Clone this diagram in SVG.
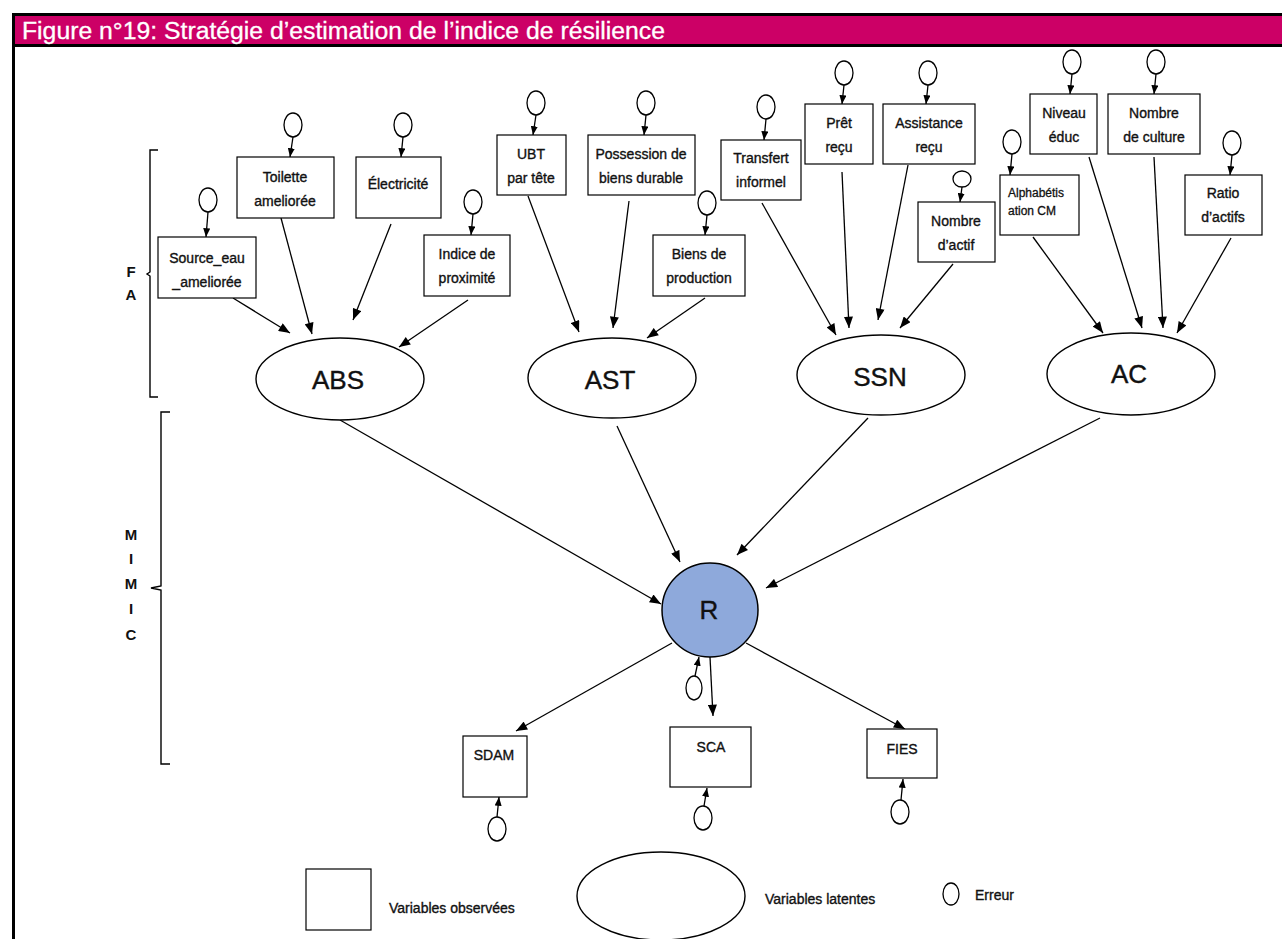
<svg xmlns="http://www.w3.org/2000/svg" width="1282" height="939" viewBox="0 0 1282 939">
<style>
.box{fill:#fff;stroke:#000;stroke-width:1.2}
.err{fill:#fff;stroke:#000;stroke-width:1.3}
.lat{fill:#fff;stroke:#000;stroke-width:1.4}
.t{font-family:"Liberation Sans",Arial,sans-serif;font-size:14px;fill:#111;stroke:#111;stroke-width:0.35;text-anchor:middle}
.ts{font-family:"Liberation Sans",Arial,sans-serif;font-size:12px;fill:#111;stroke:#111;stroke-width:0.3}
.tl{font-family:"Liberation Sans",Arial,sans-serif;font-size:26px;fill:#111;stroke:#111;stroke-width:0.4;text-anchor:middle}
.side{font-family:"Liberation Sans",Arial,sans-serif;font-size:15px;fill:#111;text-anchor:middle;font-weight:bold}
.leg{font-family:"Liberation Sans",Arial,sans-serif;font-size:14px;fill:#111;stroke:#111;stroke-width:0.35}
.c{stroke:#000;stroke-width:1.3;fill:none}
.ce{stroke:#000;stroke-width:1.3;fill:none}
.br{stroke:#000;stroke-width:1.4;fill:none}
</style>
<defs>
<marker id="ah" viewBox="0 0 10 8" refX="10" refY="4" markerWidth="12" markerHeight="9" orient="auto" markerUnits="userSpaceOnUse"><path d="M0,0 L10,4 L0,8 z" fill="#000"/></marker>
<marker id="as" viewBox="0 0 10 8" refX="10" refY="4" markerWidth="9" markerHeight="7" orient="auto" markerUnits="userSpaceOnUse"><path d="M0,0 L10,4 L0,8 z" fill="#000"/></marker>
</defs>
<rect width="1282" height="939" fill="#fff"/>
<g id="header">
<rect x="13" y="15" width="1269" height="30" fill="#CC0066"/>
<line x1="12" y1="14.5" x2="1282" y2="14.5" stroke="#000" stroke-width="3"/>
<line x1="12" y1="45.5" x2="1282" y2="45.5" stroke="#000" stroke-width="3"/>
<line x1="13.5" y1="14" x2="13.5" y2="939" stroke="#000" stroke-width="3"/>
<text x="22" y="39" font-family="'Liberation Sans',Arial,sans-serif" font-size="23" fill="#fff" stroke="#fff" stroke-width="0.3" textLength="643" lengthAdjust="spacingAndGlyphs">Figure n°19: Stratégie d’estimation de l’indice de résilience</text>
</g>
<g id="brackets">
<path class="br" d="M158,150 L150,150 L150,272 L147,274 L150,276 L150,397 L158,397"/>
<text class="side" x="131" y="277">F</text>
<text class="side" x="131" y="300">A</text>
<path class="br" d="M170,412 L161,412 L161,586 L151,588 L161,590 L161,764 L170,764"/>
<text class="side" x="131" y="540">M</text>
<text class="side" x="131" y="564">I</text>
<text class="side" x="131" y="589">M</text>
<text class="side" x="131" y="614">I</text>
<text class="side" x="131" y="640">C</text>
</g>
<g id="connectors">
<line class="c" x1="233" y1="298" x2="290" y2="333" marker-end="url(#ah)"/>
<line class="c" x1="281" y1="218" x2="312" y2="334" marker-end="url(#ah)"/>
<line class="c" x1="391" y1="224" x2="353" y2="320" marker-end="url(#ah)"/>
<line class="c" x1="468" y1="300" x2="399" y2="347" marker-end="url(#ah)"/>
<line class="c" x1="528" y1="196" x2="579" y2="332" marker-end="url(#ah)"/>
<line class="c" x1="629" y1="201" x2="613" y2="328" marker-end="url(#ah)"/>
<line class="c" x1="705" y1="298" x2="647" y2="338" marker-end="url(#ah)"/>
<line class="c" x1="762" y1="203" x2="836" y2="335" marker-end="url(#ah)"/>
<line class="c" x1="842" y1="172" x2="849" y2="328" marker-end="url(#ah)"/>
<line class="c" x1="908" y1="165" x2="878" y2="320" marker-end="url(#ah)"/>
<line class="c" x1="953" y1="264" x2="900" y2="328" marker-end="url(#ah)"/>
<line class="c" x1="1033" y1="237" x2="1103" y2="333" marker-end="url(#ah)"/>
<line class="c" x1="1089" y1="157" x2="1142" y2="328" marker-end="url(#ah)"/>
<line class="c" x1="1154" y1="157" x2="1163" y2="328" marker-end="url(#ah)"/>
<line class="c" x1="1231" y1="238" x2="1177" y2="333" marker-end="url(#ah)"/>
<line class="c" x1="340" y1="420" x2="661" y2="604" marker-end="url(#ah)"/>
<line class="c" x1="617" y1="426" x2="680" y2="562" marker-end="url(#ah)"/>
<line class="c" x1="868" y1="418" x2="737" y2="555" marker-end="url(#ah)"/>
<line class="c" x1="1100" y1="418" x2="766" y2="588" marker-end="url(#ah)"/>
<line class="c" x1="672" y1="643" x2="516" y2="731" marker-end="url(#ah)"/>
<line class="c" x1="710" y1="657" x2="713" y2="716" marker-end="url(#ah)"/>
<line class="c" x1="746" y1="643" x2="905" y2="729" marker-end="url(#ah)"/>
<line class="ce" x1="208" y1="212" x2="206" y2="237" marker-end="url(#as)"/>
<line class="ce" x1="293" y1="137" x2="290" y2="157" marker-end="url(#as)"/>
<line class="ce" x1="403" y1="137" x2="401" y2="157" marker-end="url(#as)"/>
<line class="ce" x1="473" y1="214" x2="471" y2="235" marker-end="url(#as)"/>
<line class="ce" x1="536" y1="115" x2="533" y2="135" marker-end="url(#as)"/>
<line class="ce" x1="646" y1="115" x2="644" y2="135" marker-end="url(#as)"/>
<line class="ce" x1="707" y1="215" x2="705" y2="235" marker-end="url(#as)"/>
<line class="ce" x1="766" y1="119" x2="764" y2="140" marker-end="url(#as)"/>
<line class="ce" x1="844" y1="85" x2="842" y2="104" marker-end="url(#as)"/>
<line class="ce" x1="928" y1="85" x2="926" y2="104" marker-end="url(#as)"/>
<line class="ce" x1="962" y1="187" x2="960" y2="202" marker-end="url(#as)"/>
<line class="ce" x1="1012" y1="154" x2="1010" y2="175" marker-end="url(#as)"/>
<line class="ce" x1="1072" y1="74" x2="1070" y2="94" marker-end="url(#as)"/>
<line class="ce" x1="1156" y1="74" x2="1154" y2="94" marker-end="url(#as)"/>
<line class="ce" x1="1232" y1="155" x2="1230" y2="175" marker-end="url(#as)"/>
<line class="ce" x1="695" y1="676" x2="699" y2="657" marker-end="url(#as)"/>
<line class="ce" x1="497" y1="817" x2="499" y2="797" marker-end="url(#as)"/>
<line class="ce" x1="704" y1="806" x2="707" y2="788" marker-end="url(#as)"/>
<line class="ce" x1="901" y1="800" x2="903" y2="779" marker-end="url(#as)"/>
</g>
<g id="source_eau"><ellipse class="err" cx="208" cy="200" rx="9" ry="12"/><rect class="box" x="158" y="237" width="98" height="61"/><text class="t" x="207" y="263">Source_eau</text><text class="t" x="207" y="287">_ameliorée</text></g>
<g id="toilette"><ellipse class="err" cx="293" cy="125" rx="9" ry="12"/><rect class="box" x="237" y="157" width="97" height="61"/><text class="t" x="285" y="182">Toilette</text><text class="t" x="285" y="206">ameliorée</text></g>
<g id="electricite"><ellipse class="err" cx="403" cy="125" rx="9" ry="12"/><rect class="box" x="356" y="157" width="85" height="61"/><text class="t" x="398" y="189">Électricité</text></g>
<g id="indice"><ellipse class="err" cx="473" cy="202" rx="9" ry="12"/><rect class="box" x="424" y="235" width="86" height="61"/><text class="t" x="467" y="259">Indice de</text><text class="t" x="467" y="283">proximité</text></g>
<g id="ubt"><ellipse class="err" cx="536" cy="103" rx="9" ry="12"/><rect class="box" x="497" y="135" width="69" height="60"/><text class="t" x="531" y="159">UBT</text><text class="t" x="531" y="183">par tête</text></g>
<g id="possession"><ellipse class="err" cx="646" cy="103" rx="9" ry="12"/><rect class="box" x="588" y="135" width="107" height="60"/><text class="t" x="641" y="159">Possession de</text><text class="t" x="641" y="183">biens durable</text></g>
<g id="biens_prod"><ellipse class="err" cx="707" cy="203" rx="9" ry="12"/><rect class="box" x="653" y="235" width="92" height="61"/><text class="t" x="699" y="259">Biens de</text><text class="t" x="699" y="283">production</text></g>
<g id="transfert"><ellipse class="err" cx="766" cy="107" rx="9" ry="12"/><rect class="box" x="721" y="140" width="80" height="60"/><text class="t" x="761" y="163">Transfert</text><text class="t" x="761" y="187">informel</text></g>
<g id="pret"><ellipse class="err" cx="844" cy="73" rx="9" ry="12"/><rect class="box" x="805" y="104" width="68" height="60"/><text class="t" x="839" y="128">Prêt</text><text class="t" x="839" y="152">reçu</text></g>
<g id="assistance"><ellipse class="err" cx="928" cy="73" rx="9" ry="12"/><rect class="box" x="883" y="104" width="92" height="60"/><text class="t" x="929" y="128">Assistance</text><text class="t" x="929" y="152">reçu</text></g>
<g id="nombre_actif"><ellipse class="err" cx="962" cy="179" rx="9" ry="8"/><rect class="box" x="918" y="202" width="77" height="60"/><text class="t" x="956" y="226">Nombre</text><text class="t" x="956" y="250">d’actif</text></g>
<g id="alphabetisation"><ellipse class="err" cx="1012" cy="142" rx="9" ry="12"/><rect class="box" x="1000" y="175" width="79" height="60"/><text class="ts" x="1008" y="197">Alphabétis</text><text class="ts" x="1008" y="215">ation CM</text></g>
<g id="niveau_educ"><ellipse class="err" cx="1072" cy="62" rx="9" ry="12"/><rect class="box" x="1030" y="94" width="67" height="60"/><text class="t" x="1064" y="118">Niveau</text><text class="t" x="1064" y="142">éduc</text></g>
<g id="nombre_culture"><ellipse class="err" cx="1156" cy="62" rx="9" ry="12"/><rect class="box" x="1108" y="94" width="92" height="60"/><text class="t" x="1154" y="118">Nombre</text><text class="t" x="1154" y="142">de culture</text></g>
<g id="ratio_actifs"><ellipse class="err" cx="1232" cy="143" rx="9" ry="12"/><rect class="box" x="1185" y="175" width="77" height="60"/><text class="t" x="1223" y="198">Ratio</text><text class="t" x="1223" y="222">d’actifs</text></g>
<g id="ABS"><ellipse class="lat" cx="340" cy="379" rx="84" ry="41"/><text class="tl" x="338" y="389">ABS</text></g>
<g id="AST"><ellipse class="lat" cx="612" cy="378" rx="84" ry="40"/><text class="tl" x="610" y="389">AST</text></g>
<g id="SSN"><ellipse class="lat" cx="881" cy="375" rx="84" ry="40"/><text class="tl" x="880" y="386">SSN</text></g>
<g id="AC"><ellipse class="lat" cx="1131" cy="374" rx="84" ry="41"/><text class="tl" x="1129" y="383">AC</text></g>
<g id="R"><ellipse cx="710" cy="610" rx="48" ry="47" fill="#8EA9DB" stroke="#000" stroke-width="1.5"/><text class="tl" x="709" y="619">R</text><ellipse class="err" cx="694" cy="688" rx="8" ry="12"/></g>
<g id="SDAM"><rect class="box" x="463" y="736" width="64" height="61"/><text class="t" x="494" y="760">SDAM</text><ellipse class="err" cx="497" cy="829" rx="9" ry="12"/></g>
<g id="SCA"><rect class="box" x="670" y="727" width="81" height="60"/><text class="t" x="711" y="752">SCA</text><ellipse class="err" cx="703" cy="818" rx="9" ry="12"/></g>
<g id="FIES"><rect class="box" x="867" y="729" width="70" height="49"/><text class="t" x="902" y="754">FIES</text><ellipse class="err" cx="900" cy="812" rx="9" ry="12"/></g>
<g id="legend">
<rect class="box" x="306" y="869" width="65" height="61"/>
<text class="leg" x="389" y="913">Variables observées</text>
<ellipse class="lat" cx="661" cy="896" rx="84" ry="44"/>
<text class="leg" x="765" y="904">Variables latentes</text>
<ellipse class="err" cx="951" cy="894" rx="8" ry="11"/>
<text class="leg" x="975" y="900">Erreur</text>
</g>
</svg>
